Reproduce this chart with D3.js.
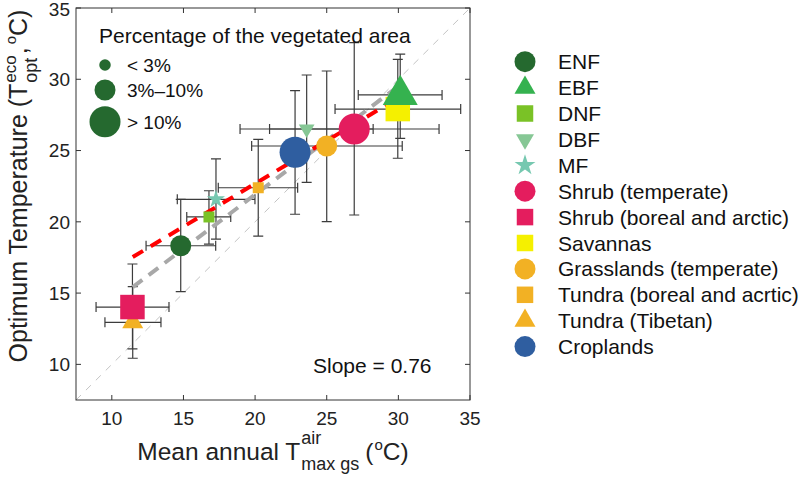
<!DOCTYPE html>
<html><head><meta charset="utf-8">
<script src="https://cdn.jsdelivr.net/npm/d3@7"></script>
<style>body{margin:0;background:#fff;} svg{display:block;font-family:"Liberation Sans",Arial,Helvetica,sans-serif;}</style>
</head><body><svg id="c" width="800" height="477"></svg>
<script>
// ---------- data ----------
const categories = ["ENF","EBF","DNF","DBF","MF","Shrub (temperate)","Shrub (boreal and arctic)","Savannas","Grasslands (temperate)","Tundra (boreal and acrtic)","Tundra (Tibetan)","Croplands"];
const xValues = [14.81,30.13,16.78,23.60,17.27,26.92,11.44,29.96,25.00,20.22,11.46,22.79];
const yValues = [18.32,28.90,20.34,26.51,21.58,26.51,14.02,27.91,25.32,22.39,12.95,24.88];
const xLow  = [12.39,27.20,15.23,18.95,14.57,21.01, 8.90,25.58,19.76,17.43, 9.52,22.10];
const xHigh = [17.25,33.05,18.30,28.24,19.99,32.84,13.99,34.35,30.27,22.97,13.43,23.50];
const yLow  = [15.10,25.86,18.44,22.77,18.79,20.48,11.08,24.46,20.01,19.00,10.43,20.53];
const yHigh = [21.58,31.77,22.18,30.30,24.41,32.57,17.04,31.40,30.58,25.79,15.45,29.20];
const areaClass = [1,2,0,0,0,2,2,2,1,0,1,2];   // 0: <3%, 1: 3-10%, 2: >10%
const shapes = ["circle","triangle","square","triangleDown","star","circle","square","square","circle","square","triangle","circle"];
const colors = ["#25692f","#35b24f","#7ac226","#86c795","#76c8b0","#e41d5e","#e41d5e","#f5f000","#f2b124","#f2b124","#f2b124","#2f5ea0"];
const areaTitle = "Percentage of the vegetated area";
const areaLabels = ["< 3%","3%\u201310%","> 10%"];
const xTicks = [10,15,20,25,30,35];
const yTicks = [10,15,20,25,30,35];
const oneToOneLine = [[7.5,7.5],[35,35]];
const fitLine = [[11.46,15.42],[30.0,29.51]];
const redLine = [[11.46,17.53],[30.0,28.7]];
const slopeText = "Slope = 0.76";

// ---------- layout ----------
const svg = d3.select("#c");
const L = 76, R = 470, T = 8, B = 400;
const x = d3.scaleLinear().domain([7.5,35]).range([L,R]);
const y = d3.scaleLinear().domain([7.5,35]).range([B,T]);
const axisCol = "#333";

// markers
const sizeTable = {circle:[11.5,21,31], square:[11,17,24.5], triangle:[16,21,35], triangleDown:[15.7,21,35], star:[19,24,32]};
function markerPath(shape, s){
  if(shape==="circle"){const r=s/2;return `M${r},0A${r},${r} 0 1,1 ${-r},0A${r},${r} 0 1,1 ${r},0Z`;}
  if(shape==="square"){const h=s/2;return `M${-h},${-h}H${h}V${h}H${-h}Z`;}
  const h=s*Math.sqrt(3)/2;
  if(shape==="triangle") return `M0,${-2*h/3}L${s/2},${h/3}L${-s/2},${h/3}Z`;
  if(shape==="triangleDown") return `M0,${2*h/3}L${s/2},${-h/3}L${-s/2},${-h/3}Z`;
  if(shape==="star"){const Ro=s/2, Ri=Ro*0.382;let p="";for(let i=0;i<10;i++){const a=-Math.PI/2+i*Math.PI/5;const r=i%2?Ri:Ro;p+=(i?"L":"M")+(r*Math.cos(a)).toFixed(2)+","+(r*Math.sin(a)).toFixed(2);}return p+"Z";}
}

const plot = svg.append("g");
plot.append("clipPath").attr("id","clip").append("rect").attr("x",L).attr("y",T).attr("width",R-L).attr("height",B-T);

// 1:1 line
const lineGen = d3.line().x(d=>x(d[0])).y(d=>y(d[1]));
plot.append("path").attr("clip-path","url(#clip)").attr("d",lineGen(oneToOneLine))
  .attr("stroke","#c4c4c4").attr("stroke-width",1).attr("stroke-dasharray","7,7").attr("fill","none");

// error bars
const idx = d3.range(categories.length).reverse();
const eb = plot.append("g").attr("stroke","#3c3c3c").attr("stroke-width",1.2).attr("fill","none");
const cap = 5;
idx.forEach(i=>{
  const cx=x(xValues[i]), cy=y(yValues[i]);
  const y1=y(yHigh[i]), y2=y(yLow[i]), x1=x(xLow[i]), x2=x(xHigh[i]);
  eb.append("path").attr("d",`M${cx},${y1}V${y2}M${cx-cap},${y1}H${cx+cap}M${cx-cap},${y2}H${cx+cap}`);
  eb.append("path").attr("d",`M${x1},${cy}H${x2}M${x1},${cy-cap}V${cy+cap}M${x2},${cy-cap}V${cy+cap}`);
});

// regression lines
plot.append("path").attr("d",lineGen(fitLine)).attr("stroke","#a8a8a8").attr("stroke-width",4).attr("stroke-dasharray","12,8").attr("fill","none");
plot.append("path").attr("d",lineGen(redLine)).attr("stroke","#ff0000").attr("stroke-width",4).attr("stroke-dasharray","12,9").attr("fill","none");

// markers
idx.forEach(i=>{
  plot.append("path").attr("transform",`translate(${x(xValues[i])},${y(yValues[i])})`)
    .attr("d",markerPath(shapes[i], sizeTable[shapes[i]][areaClass[i]])).attr("fill",colors[i]);
});

// frame and ticks
const frame = svg.append("g").attr("stroke",axisCol).attr("stroke-width",1).attr("fill","none");
frame.append("rect").attr("x",L).attr("y",T).attr("width",R-L).attr("height",B-T);
const tl=5;
xTicks.forEach(t=>{const px=x(t);frame.append("path").attr("d",`M${px},${B}V${B-tl}M${px},${T}V${T+tl}`);});
yTicks.forEach(t=>{const py=y(t);frame.append("path").attr("d",`M${L},${py}H${L+tl}M${R},${py}H${R-tl}`);});

const tickFont = 19;
svg.append("g").selectAll("text").data(xTicks).join("text")
  .attr("x",d=>x(d)).attr("y",425).attr("text-anchor","middle").attr("font-size",tickFont).attr("fill","#222").text(d=>d);
svg.append("g").selectAll("text").data(yTicks).join("text")
  .attr("x",70).attr("y",d=>Math.max(y(d),9)).attr("dy","0.36em").attr("text-anchor","end").attr("font-size",tickFont).attr("fill","#222").text(d=>d);

// rich label builder
function rich(g, parts){
  let cur=0, stackStart=null, stackMax=0;
  parts.forEach(p=>{
    const gap = p.gap||0;
    const startX = p.under ? stackStart : cur + gap;
    const el = g.append("text").attr("x",startX).attr("y",p.dy||0).attr("font-size",p.s).attr("fill","#222").text(p.t);
    const w = el.node().getComputedTextLength();
    if(p.over){stackStart=startX; stackMax=startX+w; cur=startX+w;}
    else if(p.under){cur=Math.max(stackMax,startX+w);}
    else cur=startX+w;
  });
  return cur;
}
// x label
const gx = svg.append("g");
const wx = rich(gx,[
  {t:"Mean annual T",s:24.5},
  {t:"air",s:18,dy:-16,gap:1,over:true},
  {t:"max gs",s:18,dy:10,under:true},
  {t:"(",s:24.5,gap:6},
  {t:"o",s:15,dy:-10,gap:1},
  {t:"C)",s:24.5}
]);
gx.attr("transform",`translate(${(L+R)/2 - wx/2},460)`);

// y label
const gy = svg.append("g");
const wy = rich(gy,[
  {t:"Optimum Temperature (T",s:25},
  {t:"eco",s:17,dy:-11,gap:1,over:true},
  {t:"opt",s:18,dy:10,under:true},
  {t:",",s:25,gap:1},
  {t:"o",s:15,dy:-11,gap:3},
  {t:"C)",s:25}
]);
gy.attr("transform",`translate(27,${186 + wy/2}) rotate(-90)`);

// slope text
svg.append("text").attr("x",313).attr("y",373).attr("font-size",21).attr("fill","#111").text(slopeText);

// area legend (inside)
const ag = svg.append("g");
ag.append("text").attr("x",99).attr("y",43).attr("font-size",21).attr("fill","#111").text(areaTitle);
const legCircleY = [65,90,121.7];
areaLabels.forEach((lab,k)=>{
  ag.append("path").attr("transform",`translate(105,${legCircleY[k]})`).attr("d",markerPath("circle",sizeTable.circle[k])).attr("fill",colors[0]);
  ag.append("text").attr("x",127).attr("y",legCircleY[k]+7).attr("font-size",19).attr("fill","#111").text(lab);
});

// category legend
const lg = svg.append("g");
const legSize = {circle:21, square:16.5, triangle:21, triangleDown:18, star:22};
categories.forEach((c,i)=>{
  const cy = 61.7 + i*25.9;
  lg.append("path").attr("transform",`translate(525,${cy})`).attr("d",markerPath(shapes[i],legSize[shapes[i]])).attr("fill",colors[i]);
  lg.append("text").attr("x",558).attr("y",cy+7.5).attr("font-size",21).attr("fill","#111").text(c);
});
</script></body></html>
